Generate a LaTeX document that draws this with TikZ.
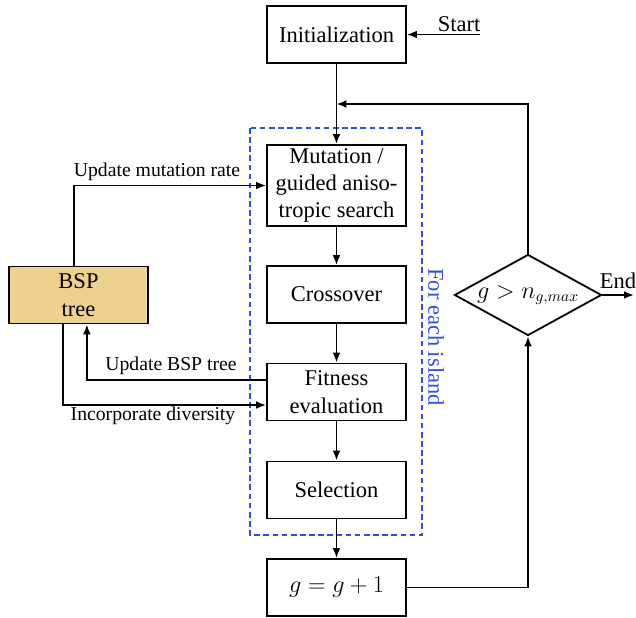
\documentclass[tikz,border=0pt]{standalone}
\usepackage{fontspec}
\setmainfont{Liberation Serif}
\usetikzlibrary{arrows.meta,positioning,shapes.geometric}
\definecolor{bspfill}{HTML}{EFD18F}
\definecolor{island}{HTML}{2E4FE0}

\begin{document}
\begin{tikzpicture}[x=0.025cm, y=-0.025cm,
    box/.style={draw, line width=1.3pt, minimum width=3.475cm, minimum height=1.425cm,
      inner sep=2pt, align=center, font=\fontsize{16}{19.5}\selectfont},
    lbl/.style={inner sep=1pt, font=\fontsize{14}{17}\selectfont},
    arr/.style={-{Latex[length=7pt,width=5.5pt]}, line width=1.3pt}]
  \useasboundingbox (0,0) rectangle (636,617);

  % main loop
  \node[box] (init) at (336.5,34.5) {Initialization};
  \node[box, minimum height=2.025cm] (mut) at (336.5,185.5) {Mutation /\\guided aniso-\\tropic search};
  \node[box] (cross) at (336.5,294.5) {Crossover};
  \node[box] (fit) at (336.5,392) {Fitness\\evaluation};
  \node[box] (sel) at (336.5,490) {Selection};
  \node[box] (incr) at (336.5,587.5) {$g=g+1$};
  \node[box, fill=bspfill] (bsp) at (78.5,295) {BSP\\tree};
  \node[draw, diamond, line width=1.3pt, inner sep=0pt, aspect=1.8,
    minimum width=3.675cm, minimum height=2.025cm,
    font=\fontsize{16}{19.5}\selectfont] (check) at (528,295) {$g>n_{g,max}$};

  % island frame
  \draw[island, line width=1pt, dash pattern=on 4pt off 2.5pt] (250,128) rectangle (422,535);
  \node[island, rotate=-90, inner sep=0pt, font=\fontsize{16}{19.5}\selectfont] (islandlbl) at (436,337) {For each island};

  % start / end
  \coordinate (start) at (480,34.5);
  \node[lbl, font=\fontsize{16}{19.5}\selectfont] (startlbl) at (459,24) {Start};
  \coordinate (loop) at (336.5,104);
  \coordinate (end) at (634,295);
  \node[lbl, font=\fontsize{16}{19.5}\selectfont] (endlbl) at (618,281) {End};

  \draw[arr] (start) -- (init);
  \draw[arr] (init) -- (mut);
  \draw[arr] (mut) -- (cross);
  \draw[arr] (cross) -- (fit);
  \draw[arr] (fit) -- (sel);
  \draw[arr] (sel) -- (incr);
  \draw[arr] (incr.east) -| (check.south);
  \draw[arr] (check.north) |- (loop);
  \draw[arr] (check.east) -- (end);

  % BSP tree links
  \draw[arr] ([xshift=-0.11cm]bsp.north) |- (mut.west);
  \node[lbl] (mutlbl) at (157,172) {Update mutation rate};
  \draw[arr] ([yshift=0.3cm]fit.west) -| ([xshift=0.21cm]bsp.south);
  \node[lbl] (bsplbl) at (171,366) {Update BSP tree};
  \draw[arr] ([xshift=-0.39cm]bsp.south) |- ([yshift=-0.325cm]fit.west);
  \node[lbl] (divlbl) at (153,416) {Incorporate diversity};
\end{tikzpicture}
\end{document}
